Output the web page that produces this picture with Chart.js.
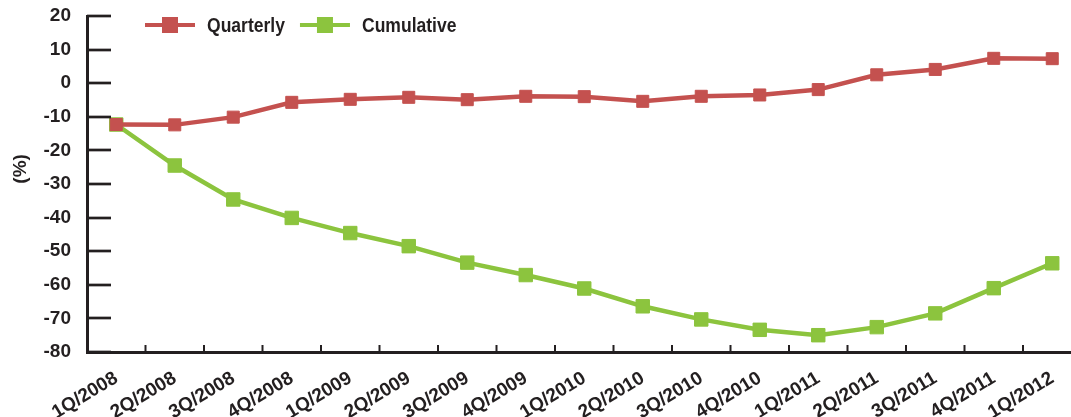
<!DOCTYPE html>
<html>
<head>
<meta charset="utf-8">
<script src="https://cdn.jsdelivr.net/npm/chart.js@4.4.1/dist/chart.umd.min.js"></script>
<style>
  html, body { margin: 0; padding: 0; background: #fff; overflow: hidden; }
  canvas { display: block; }
</style>
</head>
<body>
<canvas id="chart" width="1092" height="417"></canvas>
<script>
const quarters = ['1Q/2008', '2Q/2008', '3Q/2008', '4Q/2008', '1Q/2009', '2Q/2009', '3Q/2009', '4Q/2009',
    '1Q/2010', '2Q/2010', '3Q/2010', '4Q/2010', '1Q/2011', '2Q/2011', '3Q/2011', '4Q/2011', '1Q/2012'];
const quarterly = [-12.3, -12.4, -10.1, -5.7, -4.8, -4.2, -4.9, -3.9, -4.0, -5.4, -3.9, -3.5, -1.9, 2.5, 4.1, 7.4, 7.3];
const cumulative = [-12.3, -24.5, -34.6, -40.1, -44.6, -48.5, -53.4, -57.1, -61.1, -66.4, -70.3, -73.4, -75.0, -72.6, -68.5, -61.0, -53.6];
const yMin = -80;
const yMax = 20;
const yStep = 10;
const yTitle = '(%)';

const RED = '#c4514f';
const GREEN = '#8cc43e';
const INK = '#231f20';
const FAMILY = '"Liberation Sans", Arial, sans-serif';

// tick marks pointing into the plot, custom legend and rotated y title
const decorations = {
    id: 'decorations',
    afterDraw(chart) {
        const ctx = chart.ctx;
        const area = chart.chartArea;
        const x = chart.scales.x;
        const y = chart.scales.y;
        ctx.save();
        ctx.strokeStyle = INK;

        ctx.lineWidth = 2.7;
        y.ticks.forEach((t, i) => {
            const py = Math.round(y.getPixelForTick(i));
            ctx.beginPath();
            ctx.moveTo(area.left, py);
            ctx.lineTo(area.left + 24, py);
            ctx.stroke();
        });

        ctx.lineWidth = 2;
        for (let i = 1; i <= quarters.length; i++) {
            const px = (x.getPixelForValue(i - 1) + x.getPixelForValue(i)) / 2;
            ctx.beginPath();
            ctx.moveTo(px, area.bottom);
            ctx.lineTo(px, area.bottom - 7);
            ctx.stroke();
        }

        // y title
        ctx.fillStyle = INK;
        ctx.font = 'bold 19px ' + FAMILY;
        ctx.textAlign = 'center';
        ctx.textBaseline = 'middle';
        ctx.translate(21, y.getPixelForValue(-25.5));
        ctx.rotate(-Math.PI / 2);
        ctx.fillText(yTitle, 0, 0);
        ctx.restore();

        // legend (text squeezed to a condensed look)
        ctx.save();
        ctx.font = 'bold 21px ' + FAMILY;
        ctx.textBaseline = 'middle';
        const squeeze = 0.835;
        let lx = 145;
        const ly = 25;
        chart.data.datasets.forEach(ds => {
            ctx.strokeStyle = ds.borderColor;
            ctx.lineWidth = 4;
            ctx.beginPath();
            ctx.moveTo(lx, ly);
            ctx.lineTo(lx + 50, ly);
            ctx.stroke();
            ctx.fillStyle = ds.borderColor;
            ctx.fillRect(lx + 25 - 8, ly - 8, 16, 16);
            ctx.fillStyle = INK;
            ctx.save();
            ctx.translate(lx + 62, ly + 1);
            ctx.scale(squeeze, 1);
            ctx.fillText(ds.label, 0, 0);
            ctx.restore();
            lx += 62 + ctx.measureText(ds.label).width * squeeze + 15;
        });
        ctx.restore();
    }
};

new Chart(document.getElementById('chart'), {
    type: 'line',
    data: {
        labels: quarters,
        datasets: [{
            label: 'Quarterly',
            data: quarterly,
            borderColor: RED,
            backgroundColor: RED,
            borderWidth: 4.5,
            pointStyle: 'rect',
            pointRadius: 8.5,
            pointBorderWidth: 1,
            pointBackgroundColor: RED,
            pointBorderColor: RED,
        }, {
            label: 'Cumulative',
            data: cumulative,
            borderColor: GREEN,
            backgroundColor: GREEN,
            borderWidth: 4.5,
            pointStyle: 'rect',
            pointRadius: 9.5,
            pointBorderWidth: 1,
            pointBackgroundColor: GREEN,
            pointBorderColor: GREEN,
        }]
    },
    options: {
        responsive: false,
        animation: false,
        layout: { padding: { top: 16, right: 2, left: 0, bottom: 0 } },
        plugins: {
            legend: { display: false },
            tooltip: { enabled: false },
        },
        scales: {
            x: {
                offset: true,
                // invisible tick marks only reserve the gap under the axis
                grid: { display: true, drawOnChartArea: false, drawTicks: true, tickLength: 15, tickColor: 'rgba(0,0,0,0)' },
                border: { display: true, color: INK, width: 3 },
                ticks: {
                    color: INK,
                    font: { family: FAMILY, size: 19, weight: 'bold' },
                    minRotation: 31,
                    maxRotation: 31,
                    padding: 0,
                    autoSkip: false,
                },
                afterFit(scale) { scale.height = 65; },
            },
            y: {
                min: yMin,
                max: yMax,
                grid: { display: true, drawOnChartArea: false, drawTicks: true, tickLength: 16, tickColor: 'rgba(0,0,0,0)' },
                border: { display: true, color: INK, width: 3 },
                ticks: {
                    stepSize: yStep,
                    color: INK,
                    font: { family: FAMILY, size: 19, weight: 'bold' },
                    padding: 0,
                },
                afterFit(scale) { scale.width = 87; },
            }
        }
    },
    plugins: [decorations]
});
</script>
</body>
</html>
